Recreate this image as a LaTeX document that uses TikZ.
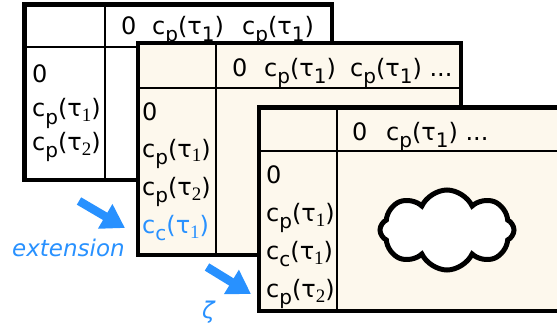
\documentclass[tikz,border=0pt]{standalone}
\usepackage{fontspec}
\setmainfont{DejaVu Sans}
\newfontfamily\idxserif{Liberation Serif}
\usetikzlibrary{arrows.meta,shapes.symbols}
\definecolor{paper}{RGB}{253,248,237}
\definecolor{accent}{RGB}{40,145,255}
% lowered, slightly smaller index
\newcommand\lowsub[1]{\raisebox{-7pt}{\fontsize{20pt}{20pt}\selectfont #1}}
% small serif index used in the row headings
\newcommand\lowidx[1]{\raisebox{-5pt}{\fontsize{19pt}{19pt}\idxserif #1}}
\newcommand\cp[1]{c\lowsub{p}(τ\lowsub{#1})}
\newcommand\cpr[1]{c\lowsub{p}(τ\lowidx{#1})}
\newcommand\ccr[1]{c\lowsub{c}(τ\lowidx{#1})}
\begin{document}
\begin{tikzpicture}[x=1pt,y=-1pt,
  frame/.style={line width=4.5pt},
  rule/.style={line width=1.2pt},
  lbl/.style={inner sep=0pt, anchor=base west, font=\fontsize{24pt}{24pt}\selectfont},
  blockarrow/.style={draw=accent, line width=8.5pt, -{Triangle[length=23pt,width=27pt,fill=accent]}},
  note/.style={lbl, text=accent, font=\fontsize{23pt}{23pt}\selectfont\itshape}]
\useasboundingbox (0,0) rectangle (557,329);
\clip (0,0) rectangle (557,329);

% table 1
\draw[frame, fill=white] (24.5,4.5) rectangle (332,180);
\draw[rule] (24.5,47) -- (332,47);
\draw[rule] (105,4.5) -- (105,180);
\node[lbl] (t1h0) at (121,35) {0};
\node[lbl] (t1h1) at (152,35) {\cp1};
\node[lbl] (t1h2) at (242,35) {\cp1};
\node[lbl] (t1r0) at (32,82) {0};
\node[lbl] (t1r1) at (32,117) {\cpr1};
\node[lbl] (t1r2) at (32,150) {\cpr2};

% table 2
\draw[frame, fill=paper] (138,43) rectangle (461,255);
\draw[rule] (138,88) -- (461,88);
\draw[rule] (216,43) -- (216,255);
\node[lbl] (t2h0) at (232,77) {0};
\node[lbl] (t2h1) at (264,77) {\cp1};
\node[lbl] (t2h2) at (350,77) {\cp1 ...};
\node[lbl] (t2r0) at (142,121) {0};
\node[lbl] (t2r1) at (142,157) {\cpr1};
\node[lbl] (t2r2) at (142,195) {\cpr2};
\node[lbl, text=accent] (t2r3) at (142,233) {\ccr1};

% table 3
\draw[frame, fill=paper] (259,107.5) rectangle (600,311);
\draw[rule] (259,151) -- (600,151);
\draw[rule] (337,107.5) -- (337,311);
\node[lbl] (t3h0) at (352,140) {0};
\node[lbl] (t3h1) at (386,140) {\cp1 ...};
\node[lbl] (t3r0) at (266,183) {0};
\node[lbl] (t3r1) at (266,221) {\cpr1};
\node[lbl] (t3r2) at (266,259) {\ccr1};
\node[lbl] (t3r3) at (266,297) {\cpr2};
\node[cloud, cloud puffs=8, cloud puff arc=130, aspect=1.7, draw, fill=white,
      line width=5pt, inner sep=0pt, minimum width=134pt, minimum height=80pt]
  (blob) at (447,230) {};

% step arrows
\coordinate (a1s) at (79,201);
\coordinate (a1e) at (125,228);
\coordinate (a2s) at (207,267);
\coordinate (a2e) at (251,294);
\draw[blockarrow] (a1s) -- (a1e);
\draw[blockarrow] (a2s) -- (a2e);
\node[note] (ext) at (12,256) {extension};
\node[note] (zeta) at (202,318) {ζ};
\end{tikzpicture}
\end{document}
